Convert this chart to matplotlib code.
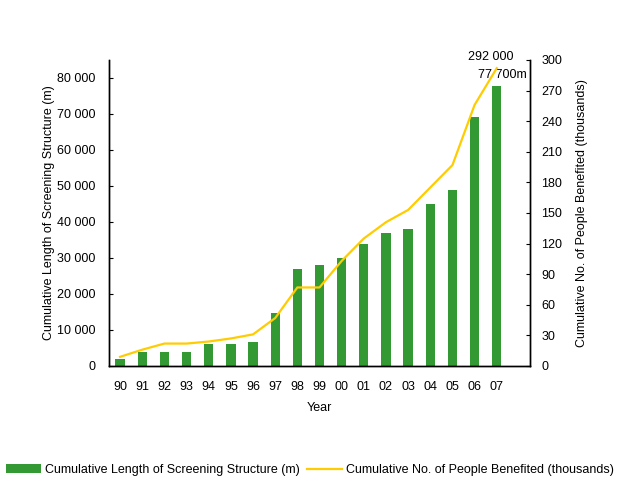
import matplotlib
matplotlib.use("Agg")
import matplotlib.pyplot as plt
from matplotlib.ticker import FuncFormatter, FixedLocator
import numpy as np

plt.rcParams['font.family'] = ['Liberation Sans', 'DejaVu Sans']
plt.rcParams['font.size'] = 9

years = ["90", "91", "92", "93", "94", "95", "96", "97", "98", "99",
         "00", "01", "02", "03", "04", "05", "06", "07"]
length_m = [2000, 4000, 4000, 4000, 6000, 6000, 6700, 14800, 27000, 28000,
            30000, 34000, 37000, 38000, 45000, 49000, 69200, 77700]
people_k = [9, 16, 22, 22, 24, 27, 31, 47, 77, 77,
            103, 125, 141, 153, 175, 197, 256, 292]

left_ticks = [0, 10000, 20000, 30000, 40000, 50000, 60000, 70000, 80000]
right_ticks = [0, 30, 60, 90, 120, 150, 180, 210, 240, 270, 300]

bar_color = "#339933"
line_color = "#FFCC00"

fig = plt.figure(figsize=(6.2, 4.9), dpi=100)
ax = fig.add_axes([109/620, 1-366/490, (530-109)/620, (366-60)/490])
ax2 = ax.twinx()

x = np.arange(len(years))
bars = ax.bar(x, length_m, width=0.42, color=bar_color, zorder=2,
              label="Cumulative Length of Screening Structure (m)")
line, = ax2.plot(x, people_k, color=line_color, lw=1.6, zorder=3,
                 label="Cumulative No. of People Benefited (thousands)")

ax.set_xlim(-0.5, 18.5)
ax.set_ylim(0, 85000)
ax2.set_ylim(0, 300)
ax.set_xticks(x)
ax.set_xticklabels(years)
ax.tick_params(axis='x', length=0, pad=11)
ax.yaxis.set_major_locator(FixedLocator(left_ticks))
ax.yaxis.set_major_formatter(FuncFormatter(lambda v, p: f"{int(v):,}".replace(",", " ")))
ax.tick_params(axis='y', direction='in', length=3, pad=10)
ax2.yaxis.set_major_locator(FixedLocator(right_ticks))
ax2.tick_params(axis='y', direction='in', length=3, pad=8)

for a in (ax, ax2):
    a.spines['top'].set_visible(False)
    for s in a.spines.values():
        s.set_linewidth(1.0)

ax.set_xlabel("Year", labelpad=6)
ax.set_ylabel("Cumulative Length of Screening Structure (m)", labelpad=1)
ax2.set_ylabel("Cumulative No. of People Benefited (thousands)", labelpad=10)

ax2.annotate("292 000", xy=(x[-1], people_k[-1]), xytext=(-6, 11),
             textcoords='offset pixels', ha='center', va='center')
ax.annotate("77 700m", xy=(x[-1], length_m[-1]), xytext=(6, 11),
            textcoords='offset pixels', ha='center', va='center')

fig.legend(handles=[bars, line], loc='center', bbox_to_anchor=(0.5, 1-470/490),
           ncol=2, frameon=False, handlelength=2.8, handleheight=0.7,
           handletextpad=0.3, columnspacing=0.6, borderaxespad=0)

fig.savefig("out.png", dpi=100)
